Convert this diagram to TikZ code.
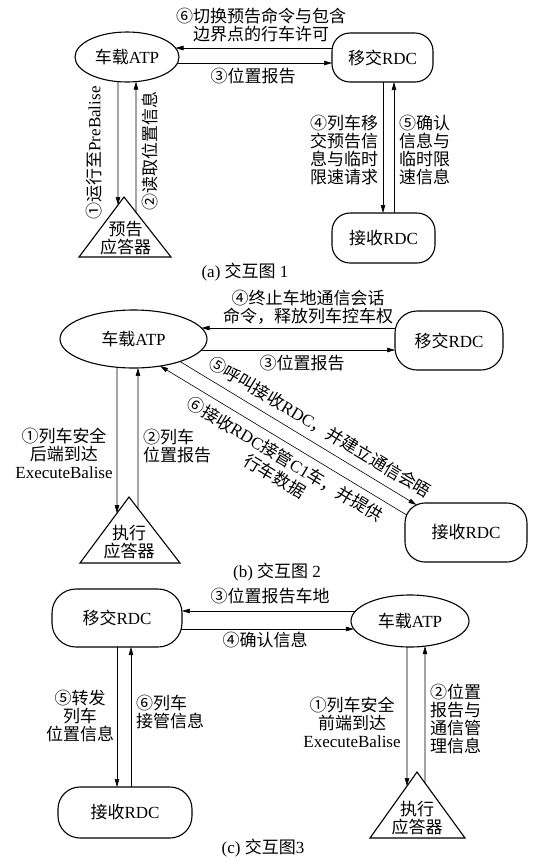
\documentclass[tikz,border=0pt]{standalone}
\usepackage{fontspec}
\setmainfont{Liberation Serif}
\newfontfamily\cjk{Noto Sans CJK SC}
\newcommand\zh[1]{{\cjk #1}}
\usetikzlibrary{arrows.meta,shapes.geometric,calc}
\begin{document}
\begin{tikzpicture}[x=1pt,y=-1pt,
  lbl/.style={inner sep=0pt,font=\fontsize{17}{18}\selectfont},
  zh/.style={inner sep=0pt,font=\fontsize{17}{18}\selectfont\cjk},
  ell/.style={draw,line width=1.1pt,ellipse,inner sep=0pt,fill=white},
  rbox/.style={draw,line width=1.1pt,rectangle,inner sep=0pt,fill=white},
  arr/.style={line width=0.6pt,-{Triangle[length=8pt,width=4.5pt]}},
  tri/.style={draw,line width=1.1pt,line join=miter}]
\useasboundingbox (0,0) rectangle (547,863);

% ---------------- (a) ----------------
\node[ell,minimum width=104pt,minimum height=50pt,lbl] (atpA) at (127,57) {\zh{车载}ATP};
\node[rbox,rounded corners=18pt,minimum width=101pt,minimum height=49pt,lbl] (rdcA) at (382.5,57.5) {\zh{移交}RDC};
\node[rbox,rounded corners=18pt,minimum width=103pt,minimum height=50pt,lbl] (rcvA) at (383.5,238) {\zh{接收}RDC};
\coordinate (tAtop) at (124,197);
\coordinate (tAl) at (79,257);
\coordinate (tAr) at (171,257);
\draw[tri] (tAtop) -- (tAl) -- (tAr) -- cycle;
\coordinate (tAin) at ($(tAtop)!0.1333!(tAl)$);
\coordinate (tAout) at ($(tAtop)!0.255!(tAr)$);
\node[zh,align=center] (tAtxt) at (125.5,238.5) {预告\\应答器};

\draw[arr] ($(rdcA)+(-50.25,-9.5)$) -- ($(atpA)+(48.5,-9)$);
\draw[arr] ($(atpA)+(50.5,6)$) -- ($(rdcA)+(-50.5,5.5)$);
\draw[arr] ($(atpA)+(-9,24.6)$) -- (tAin);
\draw[arr] (tAout) -- ($(atpA)+(9,24.6)$);
\draw[arr] ($(rdcA)+(0.5,24.5)$) -- ($(rcvA)+(-0.5,-25)$);
\draw[arr] ($(rcvA)+(10.5,-25)$) -- ($(rdcA)+(11.5,24.5)$);

\node[zh,align=center] (l6a) at (261,24.5) {⑥切换预告命令与包含\\边界点的行车许可};
\node[zh] (l3a) at (253,76) {③位置报告};
\node[lbl,rotate=90] (l1a) at (94,153) {\zh{①运行至}PreBalise};
\node[zh,rotate=90] (l2a) at (150,151) {②读取位置信息};
\node[zh,align=center] (l4a) at (344,150) {④列车移\\交预告信\\息与临时\\限速请求};
\node[zh,align=left,anchor=west] (l5a) at (399,150) {⑤确认\\信息与\\临时限\\速信息};
\node[lbl] (capA) at (245,272) {(a) \zh{交互图} 1};

% ---------------- (b) ----------------
\node[ell,minimum width=147pt,minimum height=58pt,lbl] (atpB) at (133.5,339) {\zh{车载}ATP};
\node[rbox,rounded corners=22pt,minimum width=108pt,minimum height=59pt,lbl] (rdcB) at (449,340.5) {\zh{移交}RDC};
\node[rbox,rounded corners=20pt,minimum width=122pt,minimum height=59pt,lbl] (rcvB) at (466,532.5) {\zh{接收}RDC};
\coordinate (tBtop) at (129,497);
\coordinate (tBl) at (80,563);
\coordinate (tBr) at (180,563);
\draw[tri] (tBtop) -- (tBl) -- (tBr) -- cycle;
\coordinate (tBin) at ($(tBtop)!0.245!(tBl)$);
\coordinate (tBout) at ($(tBtop)!0.176!(tBr)$);
\node[zh,align=center] (tBtxt) at (129,542) {执行\\应答器};

\draw[arr] ($(rdcB)+(-53.4,-12.5)$) -- ($(atpB)+(68,-11)$);
\draw[arr] ($(atpB)+(68,11)$) -- ($(rdcB)+(-53.9,9.5)$);
\draw[arr] ($(atpB)+(-16.5,28.26)$) -- (tBin);
\draw[arr] (tBout) -- ($(atpB)+(4.5,28.95)$);
\draw[arr] ($(atpB)+(46.5,22.5)$) -- ($(rcvB)+(-49.5,-27.6)$);
\draw[arr] ($(rcvB)+(-59.3,-17.5)$) -- ($(atpB)+(26.6,27)$);

\node[zh,align=center] (l4b) at (308,307.5) {④终止车地通信会话\\命令，释放列车控车权};
\node[zh] (l3b) at (302,363) {③位置报告};
\node[lbl,rotate=-31] (l5b) at (320,427) {\zh{⑤呼叫接收}RDC\zh{，并建立通信会晤}};
\node[inner sep=0pt,font=\fontsize{17}{20}\selectfont,rotate=-31,align=center] (l6b) at (280,467.5) {\zh{⑥接收}RDC\zh{接管}C1\zh{车，并提供}\\\zh{行车数据}};
\node[lbl,align=center] (l1b) at (64,453) {\zh{①列车安全}\\\zh{后端到达}\\ExecuteBalise};
\node[zh,align=left,anchor=west] (l2b) at (143,446.5) {②列车\\位置报告};
\node[lbl] (capB) at (277,572) {(b) \zh{交互图} 2};

% ---------------- (c) ----------------
\node[rbox,rounded corners=24pt,minimum width=130pt,minimum height=58pt,lbl] (rdcC) at (117,618) {\zh{移交}RDC};
\node[ell,minimum width=118pt,minimum height=52pt,lbl] (atpC) at (410,621) {\zh{车载}ATP};
\node[rbox,rounded corners=22pt,minimum width=134pt,minimum height=51pt,lbl] (rcvC) at (125,812.5) {\zh{接收}RDC};
\coordinate (tCtop) at (417,772);
\coordinate (tCl) at (370,838);
\coordinate (tCr) at (465,838);
\draw[tri] (tCtop) -- (tCl) -- (tCr) -- cycle;
\coordinate (tCin) at ($(tCtop)!0.213!(tCl)$);
\coordinate (tCout) at ($(tCtop)!0.1667!(tCr)$);
\node[zh,align=center] (tCtxt) at (417,818.5) {执行\\应答器};

\draw[arr] ($(atpC)+(-54.5,-10)$) -- ($(rdcC)+(64.9,-7)$);
\draw[arr] ($(rdcC)+(64.2,11)$) -- ($(atpC)+(-56.1,8)$);
\draw[arr] ($(rdcC)+(0,29)$) -- ($(rcvC)+(-8,-25.5)$);
\draw[arr] ($(rcvC)+(6,-25.5)$) -- ($(rdcC)+(14,29)$);
\draw[arr] ($(atpC)+(-3,26)$) -- (tCin);
\draw[arr] (tCout) -- ($(atpC)+(15,25.15)$);

\node[zh] (l3c) at (270,596) {③位置报告车地};
\node[zh] (l4c) at (265,640) {④确认信息};
\node[zh,align=center] (l5c) at (80,716.5) {⑤转发\\列车\\位置信息};
\node[zh,align=left,anchor=west] (l6c) at (136,712) {⑥列车\\接管信息};
\node[lbl,align=center] (l1c) at (352,722) {\zh{①列车安全}\\\zh{前端到达}\\ExecuteBalise};
\node[zh,align=left,anchor=west] (l2c) at (430,719) {②位置\\报告与\\通信管\\理信息};
\node[lbl] (capC) at (263,848) {(c) \zh{交互图}3};
\end{tikzpicture}
\end{document}
